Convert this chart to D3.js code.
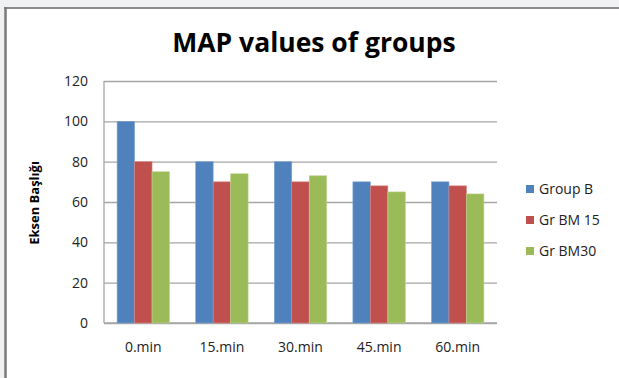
<!DOCTYPE html>
<html>
<head>
<meta charset="utf-8">
<script src="https://cdn.jsdelivr.net/npm/d3@7/dist/d3.min.js"></script>
<style>
  html, body { margin: 0; padding: 0; background: #fff; }
  svg { display: block; }
</style>
</head>
<body>
<svg id="chart" width="619" height="378"></svg>
<script>
// Chart data
const categories = ["0.min", "15.min", "30.min", "45.min", "60.min"];
const seriesNames = ["Group B", "Gr BM 15", "Gr BM30"];
const groupB = [100, 80, 80, 70, 70];
const grBM15 = [80, 70, 70, 68, 68];
const grBM30 = [75, 74, 73, 65, 64];
const yTicks = [0, 20, 40, 60, 80, 100, 120];
const colors = ["#4F81BD", "#C0504D", "#9BBB59"];
const edgeColors = ["#7fa3d3", "#d98583", "#bcd68c"];

const series = [groupB, grBM15, grBM30];
const W = 619, H = 378;
const plot = { left: 104, right: 497, top: 81, bottom: 323 };
const font = "'Open Sans', 'DejaVu Sans', sans-serif";

const svg = d3.select("#chart");

// window frame: light gray margin and a dark border on top/left
svg.append("rect").attr("x", 0).attr("y", 0).attr("width", W).attr("height", H).attr("fill", "#f0f1f3");
svg.append("rect").attr("x", 5).attr("y", 8).attr("width", W - 5).attr("height", H - 8).attr("fill", "#fff");
svg.append("line").attr("x1", 4).attr("x2", W).attr("y1", 8).attr("y2", 8)
  .attr("stroke", "#8c8c8c").attr("stroke-width", 2);
svg.append("line").attr("x1", 5.5).attr("x2", 5.5).attr("y1", 7).attr("y2", H)
  .attr("stroke", "#7a7a7a").attr("stroke-width", 2.5);

const x = d3.scaleBand().domain(categories).range([plot.left, plot.right]).paddingInner(0).paddingOuter(0);
const y = d3.scaleLinear().domain([0, 120]).range([plot.bottom, plot.top]);

// gridlines
const yAxis = d3.axisLeft(y).tickValues(yTicks).tickSize(-(plot.right - plot.left)).tickPadding(16);
const gy = svg.append("g").attr("transform", `translate(${plot.left},0)`).call(yAxis);
gy.select(".domain").remove();
gy.selectAll(".tick line").attr("stroke", "#a6a6a6").attr("stroke-width", 1.3);
gy.selectAll(".tick text").attr("font-family", font).attr("font-size", 14).attr("fill", "#222");

// axis lines
svg.append("line").attr("x1", plot.left).attr("x2", plot.left).attr("y1", plot.top).attr("y2", plot.bottom)
  .attr("stroke", "#a6a6a6").attr("stroke-width", 1.3);
svg.append("line").attr("x1", plot.left).attr("x2", plot.right).attr("y1", plot.bottom).attr("y2", plot.bottom)
  .attr("stroke", "#a6a6a6").attr("stroke-width", 1.3);

// bars: three series per category, gap width 150% of a bar
const bw = x.bandwidth() / (series.length + 1.5);
const inner = d3.scaleBand().domain(d3.range(series.length))
  .range([x.bandwidth() / 2 - bw * 1.5, x.bandwidth() / 2 + bw * 1.5])
  .paddingInner(0).paddingOuter(0);

series.forEach((vals, si) => {
  svg.append("g").selectAll("rect").data(vals).join("rect")
    .attr("x", (d, i) => x(categories[i]) + inner(si))
    .attr("y", d => y(d))
    .attr("width", inner.bandwidth())
    .attr("height", d => y(0) - y(d))
    .attr("fill", colors[si])
    .attr("stroke", edgeColors[si])
    .attr("stroke-width", 0.6);
});

// x axis labels
const xAxis = d3.axisBottom(x).tickSize(0).tickPadding(19);
const gx = svg.append("g").attr("transform", `translate(0,${plot.bottom})`).call(xAxis);
gx.select(".domain").remove();
gx.selectAll(".tick text").attr("font-family", font).attr("font-size", 14).attr("fill", "#222");

// title
svg.append("text").attr("x", 314).attr("y", 52).attr("text-anchor", "middle")
  .attr("font-family", font).attr("font-weight", "bold").attr("font-size", 26.5).attr("fill", "#000")
  .text("MAP values of groups");

// y axis title
svg.append("text").attr("transform", "translate(39,203) rotate(-90)").attr("text-anchor", "middle")
  .attr("font-family", font).attr("font-weight", "bold").attr("font-size", 13).attr("fill", "#000")
  .text("Eksen Başlığı");

// legend
const legend = svg.append("g");
seriesNames.forEach((name, i) => {
  const cy = 189 + i * 31;
  legend.append("rect").attr("x", 526).attr("y", cy - 4).attr("width", 8).attr("height", 8).attr("fill", colors[i]);
  legend.append("text").attr("x", 539).attr("y", cy).attr("dy", "0.35em")
    .attr("font-family", font).attr("font-size", 14).attr("fill", "#222").text(name);
});
</script>
</body>
</html>
